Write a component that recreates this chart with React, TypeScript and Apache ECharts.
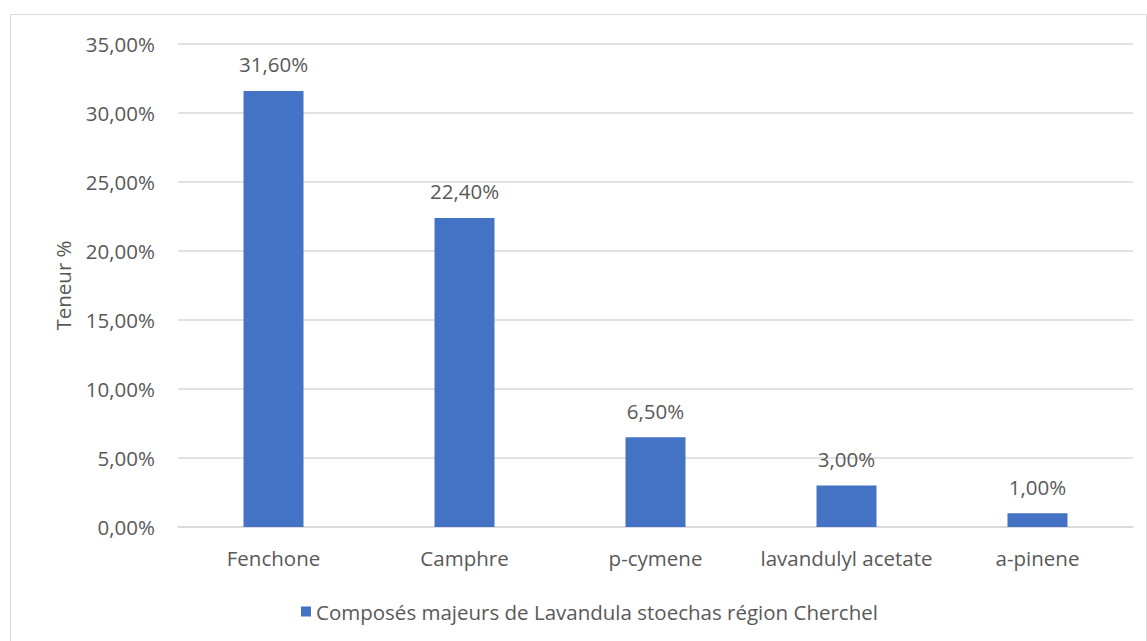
import React, { useEffect, useRef } from "react";
import * as echarts from "echarts";

const categories = ["Fenchone", "Camphre", "p-cymene", "lavandulyl acetate", "a-pinene"];
const values = [31.6, 22.4, 6.5, 3.0, 1.0];
const seriesName = "Composés majeurs de Lavandula stoechas région Cherchel";
const yAxisName = "Teneur %";
const yMax = 35;
const yStep = 5;

const fmt = (v: number) => v.toFixed(2).replace(".", ",") + "%";
const FONT = "'Open Sans', sans-serif";
const TEXT = "#595959";
const FS = 20.5;

export default function App() {
  const ref = useRef<HTMLDivElement>(null);
  useEffect(() => {
    const chart = echarts.init(ref.current!, null, { renderer: "svg" });
    chart.setOption({
      animation: false,
      backgroundColor: "#ffffff",
      textStyle: { fontFamily: FONT },
      graphic: [
        {
          type: "rect",
          shape: { x: 10.5, y: 14.5, width: 1136, height: 640 },
          style: { fill: "none", stroke: "#d9d9d9", lineWidth: 1 },
          silent: true,
        },
      ],
      grid: { left: 178, right: 14, top: 44, bottom: 114 },
      legend: {
        data: [seriesName],
        bottom: 14,
        left: 296,
        icon: "rect",
        itemWidth: 10,
        itemHeight: 10,
        itemGap: 6,
        textStyle: { color: TEXT, fontSize: FS, fontFamily: FONT },
      },
      xAxis: {
        type: "category",
        data: categories,
        axisLine: { show: true, lineStyle: { color: "#d9d9d9", width: 1.5 } },
        axisTick: { show: false },
        axisLabel: { color: TEXT, fontSize: FS, fontFamily: FONT, margin: 20, interval: 0 },
      },
      yAxis: {
        type: "value",
        min: 0,
        max: yMax,
        interval: yStep,
        name: yAxisName,
        nameLocation: "middle",
        nameGap: 105,
        nameRotate: 90,
        nameTextStyle: { color: TEXT, fontSize: FS, fontFamily: FONT },
        axisLine: { show: false },
        axisTick: { show: false },
        axisLabel: {
          color: TEXT,
          fontSize: FS,
          fontFamily: FONT,
          margin: 23,
          formatter: (v: number) => fmt(v),
        },
        splitLine: { lineStyle: { color: "#d9d9d9", width: 1.5 } },
      },
      series: [
        {
          name: seriesName,
          type: "bar",
          data: values,
          barWidth: 60,
          itemStyle: { color: "#4472c4" },
          label: {
            show: true,
            position: "top",
            distance: 16,
            color: TEXT,
            fontSize: FS,
            fontFamily: FONT,
            formatter: (p: any) => fmt(p.value),
          },
        },
      ],
    });
    return () => chart.dispose();
  }, []);
  return (
    <div
      ref={ref}
      style={{ position: "fixed", left: 0, top: 0, width: 1147, height: 641 }}
    />
  );
}
